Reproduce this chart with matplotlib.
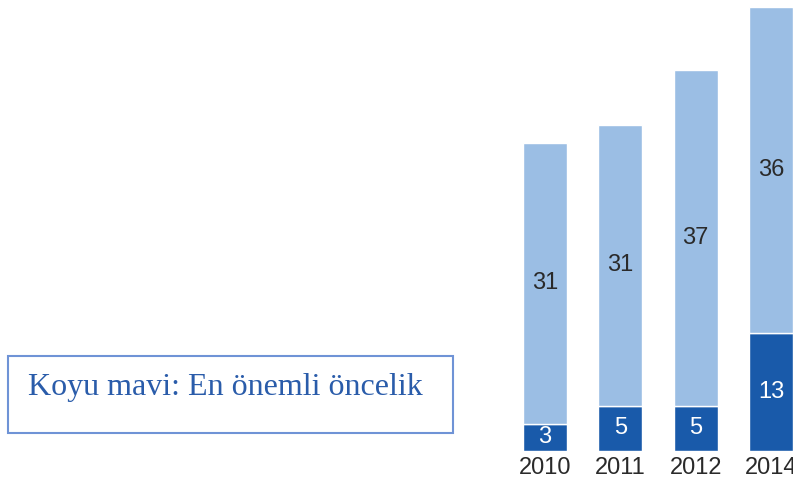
import matplotlib
matplotlib.use("Agg")
import matplotlib.pyplot as plt
from matplotlib.patches import Rectangle

years = ["2010", "2011", "2012", "2014"]
top_priority = [3, 5, 5, 13]
other_priority = [31, 31, 37, 36]

dark_blue = "#195AAA"
light_blue = "#9BBEE4"

plt.rcParams['font.family'] = ['Liberation Sans', 'DejaVu Sans']

fig = plt.figure(figsize=(7.93, 4.87), dpi=100)
ax = fig.add_axes([0, 36 / 487, 1, 451 / 487])

x = list(range(len(years)))
ax.bar(x, top_priority, width=0.585, color=dark_blue, edgecolor="white", linewidth=1)
ax.bar(x, other_priority, bottom=top_priority, width=0.585, color=light_blue,
       edgecolor="white", linewidth=1)

for i in x:
    ax.text(i, top_priority[i] / 2, str(top_priority[i]), ha="center", va="center",
            color="white", fontsize=17)
    ax.text(i, top_priority[i] + other_priority[i] / 2, str(other_priority[i]),
            ha="center", va="center", color="#2a2a2a", fontsize=17)

ax.set_xlim(-7.237, 3.293)
ax.set_ylim(0, 49.78)
ax.set_xticks(x)
ax.set_xticklabels(years, fontsize=17, color="#2a2a2a")
ax.tick_params(axis="x", length=0, pad=4)
ax.set_yticks([])
for s in ax.spines.values():
    s.set_visible(False)

# note box
fig.patches.append(Rectangle((8 / 793, 1 - 433 / 487), 445 / 793, 77 / 487,
                             transform=fig.transFigure, fill=False,
                             edgecolor="#6F93D6", linewidth=1.5))
fig.text(28 / 793, 1 - 395 / 487, "Koyu mavi: En önemli öncelik",
         family="Liberation Serif", fontsize=23, color="#2A5CAA", va="baseline")

fig.savefig("out.png", dpi=100)
